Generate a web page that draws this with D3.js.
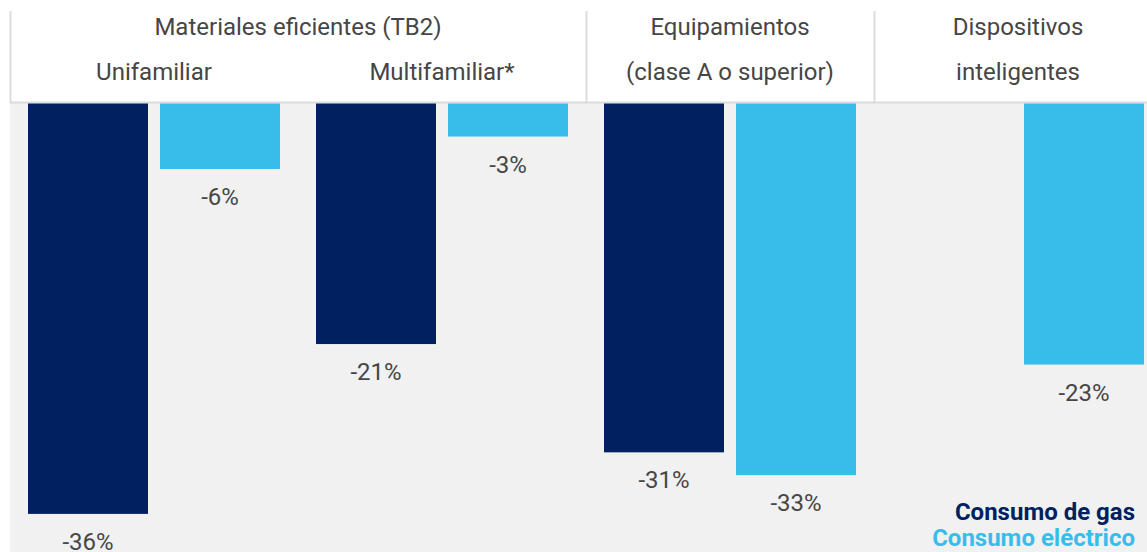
<!DOCTYPE html>
<html>
<head>
<meta charset="utf-8">
<script src="https://cdn.jsdelivr.net/npm/d3@7"></script>
<style>
html,body{margin:0;padding:0;background:#fff;}
svg{display:block;font-family:Roboto,"Noto Sans",sans-serif;}
</style>
</head>
<body>
<svg id="chart" width="1147" height="552"></svg>
<script>
const categories = ["Unifamiliar", "Multifamiliar*", "Equipamientos", "Dispositivos"];
const headerTop = ["Materiales eficientes (TB2)", "", "Equipamientos", "Dispositivos"];
const headerBottom = ["Unifamiliar", "Multifamiliar*", "(clase A o superior)", "inteligentes"];
const seriesNames = ["Consumo de gas", "Consumo eléctrico"];
const gasValues = [-36, -21.1, -30.6, null];
const elecValues = [-5.75, -2.9, -32.6, -22.9];
const gasLabels = ["-36%", "-21%", "-31%", ""];
const elecLabels = ["-6%", "-3%", "-33%", "-23%"];
const colors = ["#00205f", "#38bdeb"];

const svg = d3.select("#chart");
const W = 1147, H = 552;
const left = 10, headerBottomY = 103;
const FS = 24;

const x0 = d3.scaleBand().domain(categories).range([left, left + 288 * 4]).padding(0);
const x1 = d3.scaleBand().domain(seriesNames).range([0, x0.bandwidth()])
  .paddingInner(12 / 132).paddingOuter(0.13636);
const y = d3.scaleLinear().domain([0, -36]).range([103.5, 513.9]);

// backgrounds
svg.append("rect").attr("x", left).attr("y", headerBottomY).attr("width", W - left).attr("height", H - headerBottomY).attr("fill", "#f1f1f1");
// header lines
svg.append("line").attr("x1", left).attr("x2", W).attr("y1", headerBottomY - 0.5).attr("y2", headerBottomY - 0.5).attr("stroke", "#dcdcdc").attr("stroke-width", 2);
const seps = [left, x0("Equipamientos"), x0("Dispositivos")];
svg.selectAll("line.sep").data(seps).enter().append("line").attr("class", "sep")
  .attr("x1", d => d + 0.5).attr("x2", d => d + 0.5).attr("y1", 11).attr("y2", headerBottomY)
  .attr("stroke", "#dcdcdc").attr("stroke-width", 2);

// header text
const textColor = "#464646";
svg.append("text").attr("x", x0("Unifamiliar") + x0.bandwidth()).attr("y", 35)
  .attr("text-anchor", "middle").attr("font-size", FS).attr("fill", textColor).text(headerTop[0]);
categories.forEach((c, i) => {
  if (i >= 2) {
    svg.append("text").attr("x", x0(c) + x0.bandwidth() / 2).attr("y", 35)
      .attr("text-anchor", "middle").attr("font-size", FS).attr("fill", textColor).text(headerTop[i]);
  }
  svg.append("text").attr("x", x0(c) + x0.bandwidth() / 2).attr("y", 80)
    .attr("text-anchor", "middle").attr("font-size", FS).attr("fill", textColor).text(headerBottom[i]);
});

// bars
const rows = [];
categories.forEach((c, i) => {
  rows.push({cat: c, s: seriesNames[0], v: gasValues[i], label: gasLabels[i], color: colors[0]});
  rows.push({cat: c, s: seriesNames[1], v: elecValues[i], label: elecLabels[i], color: colors[1]});
});
const valid = rows.filter(d => d.v !== null);
svg.selectAll("rect.bar").data(valid).enter().append("rect").attr("class", "bar")
  .attr("x", d => x0(d.cat) + x1(d.s))
  .attr("y", y(0))
  .attr("width", x1.bandwidth())
  .attr("height", d => y(d.v) - y(0))
  .attr("fill", d => d.color);
svg.selectAll("text.lbl").data(valid).enter().append("text").attr("class", "lbl")
  .attr("x", d => x0(d.cat) + x1(d.s) + x1.bandwidth() / 2)
  .attr("y", d => y(d.v) + 36)
  .attr("text-anchor", "middle").attr("font-size", FS).attr("fill", textColor)
  .text(d => d.label);

// legend
seriesNames.forEach((s, i) => {
  svg.append("text").attr("x", 1135).attr("y", 520 + i * 26)
    .attr("text-anchor", "end").attr("font-size", 24).attr("font-weight", "bold")
    .attr("fill", colors[i]).text(s);
});
</script>
</body>
</html>
